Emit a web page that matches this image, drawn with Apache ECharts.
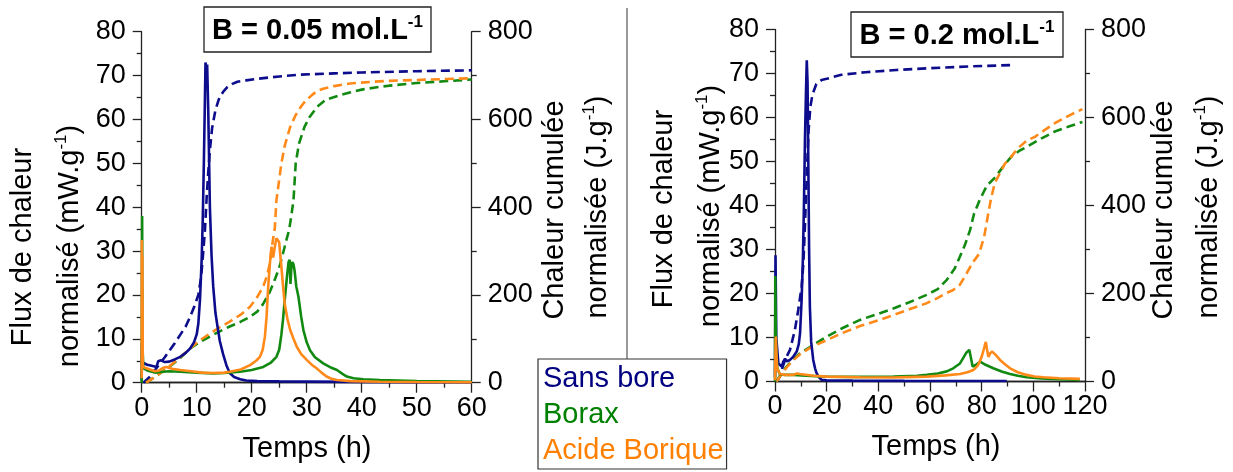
<!DOCTYPE html>
<html><head><meta charset="utf-8">
<script src="https://cdn.jsdelivr.net/npm/echarts@6/dist/echarts.min.js"></script>
<style>html,body{margin:0;padding:0;background:#fff}#c{width:1233px;height:472px}</style>
</head><body><div id="c"></div>
<script>
// ---------- data (time h, value) ----------
// Left panel: B = 0.05 mol/L  (flux mW/g on left axis, cumulated heat J/g on right axis)
const L_sansBore_flux = [[0,0.5],[0.05,9],[0.15,4.6],[0.5,4.3],[1,4.1],[2,3.8],[2.7,3.6],[3,4.9],[3.5,5.1],[4.2,4.7],[5,4.8],[6,5.3],[7,5.9],[8,6.8],[8.8,7.8],[9.5,9.2],[10,11],[10.3,13.5],[10.6,19],[10.9,28],[11.1,37],[11.3,50],[11.5,65],[11.6,73],[11.75,71.5],[11.9,72.5],[12.1,62],[12.4,40],[12.7,29],[13,22],[13.4,16],[13.7,13.5],[14.2,9.5],[14.8,6.5],[15.4,4],[16,2.2],[16.8,1.3],[17.9,0.8],[19,0.5],[21,0.35],[25,0.3],[30,0.25],[40,0.18],[50,0.12],[60,0.1]];
const L_borax_flux = [[0,0],[0.08,38],[0.15,8],[0.3,3.3],[1,2.8],[2.4,2.3],[3.9,2.5],[5,2.6],[7,2.5],[10,2.3],[13,2.1],[15,2.2],[17.9,2.5],[20,2.9],[22.1,3.6],[23.5,4.6],[24.5,5.9],[25,7.5],[25.4,11],[25.7,14.5],[26,18.8],[26.4,24],[26.7,27.5],[26.9,28],[27.05,22.5],[27.2,26],[27.4,27.5],[27.6,27],[27.8,25.5],[28.1,22],[28.5,19.6],[29,15],[29.4,12],[30,9.2],[30.6,7.4],[31.5,5.8],[33,4.4],[34.5,3.4],[35.5,2.9],[36.5,2],[37.3,1.4],[38.5,1],[40.3,0.8],[43.3,0.6],[50,0.35],[60,0.2]];
const L_acide_flux = [[0,1],[0.03,32.5],[0.08,4],[0.12,29],[0.2,3.6],[0.5,3.4],[1.5,3],[2.4,2.6],[3.2,2.8],[3.9,3.4],[4.5,3.6],[5.5,3.2],[7,2.9],[9,2.6],[11,2.3],[13,2.2],[15,2.3],[16,2.5],[18,3.0],[19.7,4],[20.8,5],[21.5,5.9],[22,7.5],[22.4,10.5],[22.7,15],[23,21.9],[23.3,27],[23.6,31],[23.9,28.5],[24.2,31],[24.5,32.9],[24.8,33.2],[25,32],[25.2,29],[25.4,26.4],[25.7,22],[26,18],[26.5,14.5],[27,12],[27.6,10],[28.2,8.2],[29,6.5],[30,5.2],[31,4],[31.8,3.3],[32.7,2.3],[33.6,1.4],[34.5,0.9],[35.5,0.6],[38,0.35],[43.3,0.2],[50,0.15],[60,0.1]];
const L_sansBore_cum = [[0.3,0],[1,8],[1.5,14],[2.5,30],[3.3,44],[4.2,58],[5.1,74],[6,90],[7,109],[8,128],[8.8,150],[9.6,175],[10.3,200],[10.8,240],[11.2,300],[11.5,348],[11.8,420],[12.1,480],[12.4,530],[12.8,580],[13.4,621],[14,645],[14.8,663],[15.6,674],[16.5,681],[17.4,686],[19,689],[21.3,693],[25,698],[28.7,702],[35,705],[40,707],[50,710],[60,712]];
const L_borax_cum = [[0.8,0],[2,10],[3.3,21],[5,36],[7,56],[8.8,78],[10.5,92],[12.4,105],[14,116],[16,128],[18,139],[19.7,150],[21,162],[22,178],[23.3,207],[24.2,235],[25,262],[25.7,295],[26.3,325],[26.8,348],[27.2,380],[27.6,416],[28,500],[28.6,545],[29.6,583],[30.5,605],[31.9,629],[33.5,645],[36,655],[38,662],[40,668],[42.5,673],[45,677],[50,683],[55,687],[60,691]];
const L_acide_cum = [[0.8,0],[2,10],[3.3,21],[5,37],[7,58],[8.8,78],[10.5,96],[12.4,112],[14,125],[16,139],[18,155],[19.7,173],[21,195],[22.1,219],[22.8,245],[23.3,272],[23.8,320],[24.2,352],[24.5,416],[25.4,500],[26,540],[27,583],[28,610],[29,630],[29.9,644],[31,656],[31.9,665],[33,670],[35,676],[37.9,682],[42,686],[45,688],[50,690],[55,692],[60,694]];

// Right panel: B = 0.2 mol/L
const R_sansBore_flux = [[0,1],[0.2,28.7],[0.5,10],[1.3,4.1],[2,3.8],[2.6,3.4],[3.2,4.5],[3.9,5.2],[4.5,4.6],[5.8,4.9],[7,5.6],[8.4,6.8],[9.2,8.5],[9.7,11],[10.3,18.5],[10.8,28],[11.2,40],[11.6,55],[12,66],[12.3,73],[12.6,68],[12.9,50],[13.2,30],[13.5,17],[14,9],[14.8,4.9],[15.5,3],[16.1,1.9],[17,1],[18,0.4],[20,0.25],[30,0.2],[50,0.15],[70,0.12],[89.7,0.1]];
const R_borax_flux = [[0,0],[0.1,24],[0.4,8],[0.9,3],[1.9,1.6],[4,1.5],[7.1,1.5],[12,1.3],[20,1.1],[30,1.05],[45.8,1.1],[55,1.3],[58.7,1.5],[63,1.8],[66.5,2.3],[69,3],[71.6,4.1],[73,5.5],[74,6.5],[75.2,7.2],[75.8,5.5],[76.5,3.4],[77.5,3.7],[79.4,4.5],[81.5,3.8],[84.5,3],[88,2.2],[91,1.7],[94,1.3],[97.4,0.95],[103,0.7],[110.3,0.5],[118,0.35]];
const R_acide_flux = [[0,0.3],[0.3,10.2],[0.8,3],[1.9,1.7],[4,1.5],[7.1,1.5],[8.5,1.8],[9,2],[9.6,1.7],[10.3,1.5],[15,1.3],[20,1.1],[32.9,0.95],[45.8,0.9],[58.7,1.1],[66,1.4],[71.6,1.7],[74.5,2.1],[76.8,2.6],[78.5,3.6],[80,5.6],[80.9,7.5],[81.6,9.0],[82.1,7.2],[82.6,5.6],[83.3,6.4],[84.1,6.8],[85.5,6],[87.1,4.9],[89,3.9],[91,3],[94,2.1],[97.4,1.5],[100.5,1.15],[103.9,0.95],[110,0.75],[118,0.6]];
const R_sansBore_cum = [[0.5,0],[1.9,11],[3,34],[3.9,49],[5.8,72],[7.7,117],[9,163],[10.3,215],[11,270],[11.5,340],[12,420],[12.5,500],[13,570],[13.7,625],[14.5,652],[16,676],[18,685],[20,688],[25.7,697],[35,703],[47,708],[60,712],[75,716],[91,719]];
const R_borax_cum = [[0.6,0],[2,14],[4.5,34],[7,50],[9.7,64],[14,80],[20,102],[26,121],[32.9,140],[40,154],[45.8,166],[52,180],[58.7,197],[63,210],[66.5,231],[69.5,256],[71.6,284],[73.5,310],[75.5,344],[77,380],[79.2,412],[82,445],[85.4,465],[88.5,490],[91.5,511],[94.5,524],[97.6,534],[103,552],[108.3,568],[114,580],[119,590]];
const R_acide_cum = [[0.6,0],[2,12],[4.5,32],[7,48],[9.7,62],[14,78],[20,94],[26,110],[32.9,126],[40,139],[45.8,151],[52,164],[58.7,178],[63,190],[66,200],[69,208],[71.6,220],[74.2,246],[76.5,270],[79,290],[81,330],[82.5,380],[83.5,412],[85,450],[87,473],[89,495],[91.5,511],[94,530],[97.6,548],[100.6,556],[104,570],[108.3,587],[114,605],[119,619]];

const seriesNames = ['Sans bore','Borax','Acide Borique'];
const leftXTicks = {min:0, max:60, interval:10};
const rightXTicks = {min:0, max:120, interval:20};
const fluxTicks = {min:0, max:80, interval:10};
const cumTicks = {min:0, max:800, interval:200};

// ---------- styling ----------
const COLORS = {'Sans bore':'#0c0c8c','Borax':'#128a12','Acide Borique':'#ff8a1a'};
const LEGEND_COLORS = {'Sans bore':'#000080','Borax':'#008000','Acide Borique':'#ff8000'};
const FONT = '"Liberation Sans", Arial, sans-serif';
const AX = '#222';

function xAx(grid, t){
  return {type:'value', gridIndex:grid, min:t.min, max:t.max, interval:t.interval,
    axisLine:{show:true, lineStyle:{color:AX, width:1.3}},
    axisTick:{show:true, length:10, lineStyle:{color:AX, width:1.3}},
    minorTick:{show:true, splitNumber:2, length:5, lineStyle:{color:AX, width:1.3}},
    axisLabel:{fontSize:27, color:'#000', fontFamily:FONT, margin:12},
    splitLine:{show:false}};
}
function topAx(grid, t){
  return {type:'value', gridIndex:grid, position:'top', min:t.min, max:t.max,
    axisLine:{show:true, lineStyle:{color:AX, width:1.3}},
    axisTick:{show:false}, axisLabel:{show:false}, splitLine:{show:false}};
}
function yAx(grid, t, pos){
  return {type:'value', gridIndex:grid, position:pos, min:t.min, max:t.max, interval:t.interval,
    axisLine:{show:true, onZero:false, lineStyle:{color:AX, width:1.3}},
    axisTick:{show:true, length:9, lineStyle:{color:AX, width:1.3}},
    minorTick:{show:true, splitNumber:2, length:5, lineStyle:{color:AX, width:1.3}},
    axisLabel:{fontSize:27, color:'#000', fontFamily:FONT, margin:16},
    splitLine:{show:false}};
}
function ser(name, data, xi, yi, dashed){
  return {type:'line', name:name, data:data, xAxisIndex:xi, yAxisIndex:yi,
    showSymbol:false, symbol:'none', animation:false, z: dashed?3:4,
    lineStyle:{color:COLORS[name], width:2.6, type: dashed?[9,5]:'solid'},
    itemStyle:{color:COLORS[name]}};
}

const titleRich = {
  a:{fontSize:29, fontWeight:'bold', fontFamily:FONT, color:'#000', lineHeight:34},
  s:{fontSize:17, fontWeight:'bold', fontFamily:FONT, color:'#000', verticalAlign:'top', lineHeight:34}
};
const axRich = {
  a:{fontSize:29, fontFamily:FONT, color:'#000', lineHeight:34},
  s:{fontSize:17, fontFamily:FONT, color:'#000', verticalAlign:'top', lineHeight:34}
};
function vtext(x, y, txt){
  return {type:'text', x:x, y:y, rotation:Math.PI/2, z:10,
    style:{text:txt, rich:axRich, align:'center', verticalAlign:'middle'}};
}
function htext(x, y, txt){
  return {type:'text', x:x, y:y, z:10,
    style:{text:txt, font:'29px '+FONT, fill:'#000', align:'center', verticalAlign:'middle'}};
}
function titleBox(x, y, w, h, txt){
  return {type:'group', z:20, children:[
    {type:'rect', shape:{x:x, y:y, width:w, height:h}, style:{fill:'#fff', stroke:'#222', lineWidth:1.3}},
    {type:'text', x:x+w/2, y:y+h/2+1, style:{text:txt, rich:titleRich, align:'center', verticalAlign:'middle'}}
  ]};
}

const option = {
  backgroundColor:'#fff',
  animation:false,
  grid:[
    {left:141.7, top:31.7, width:330, height:351},
    {left:775, top:29.5, width:310, height:352}
  ],
  xAxis:[xAx(0,leftXTicks), topAx(0,leftXTicks), xAx(1,rightXTicks), topAx(1,rightXTicks)],
  yAxis:[yAx(0,fluxTicks,'left'), yAx(0,cumTicks,'right'), yAx(1,fluxTicks,'left'), yAx(1,cumTicks,'right')],
  legend:{
    left:538, top:359, orient:'vertical', icon:'none', itemWidth:0, itemHeight:0, itemGap:6,
    padding:[5,3,3,0], borderColor:'#333', borderWidth:1.2, backgroundColor:'#fff',
    selectedMode:false,
    textStyle:{fontSize:29, fontFamily:FONT, lineHeight:30},
    data: seriesNames.map(n=>({name:n, textStyle:{color:LEGEND_COLORS[n]}}))
  },
  series:[
    ser('Sans bore', L_sansBore_cum, 0, 1, true),
    ser('Borax', L_borax_cum, 0, 1, true),
    ser('Acide Borique', L_acide_cum, 0, 1, true),
    ser('Sans bore', L_sansBore_flux, 0, 0, false),
    ser('Borax', L_borax_flux, 0, 0, false),
    ser('Acide Borique', L_acide_flux, 0, 0, false),
    ser('Sans bore', R_sansBore_cum, 2, 3, true),
    ser('Borax', R_borax_cum, 2, 3, true),
    ser('Acide Borique', R_acide_cum, 2, 3, true),
    ser('Sans bore', R_sansBore_flux, 2, 2, false),
    ser('Borax', R_borax_flux, 2, 2, false),
    ser('Acide Borique', R_acide_flux, 2, 2, false)
  ],
  graphic:[
    {type:'line', shape:{x1:627, y1:8, x2:627, y2:359}, style:{stroke:'#555', lineWidth:1.2}, z:5},
    titleBox(204, 7, 227, 45, '{a|B = 0.05 mol.L}{s|-1}'),
    titleBox(851, 12, 212, 45, '{a|B = 0.2 mol.L}{s|-1}'),
    vtext(23, 247, '{a|Flux de chaleur}'),
    vtext(70, 246, '{a|normalisé (mW.g}{s|-1}{a|)}'),
    vtext(555, 210, '{a|Chaleur cumulée}'),
    vtext(598, 207, '{a|normalisée (J.g}{s|-1}{a|)}'),
    vtext(664, 209, '{a|Flux de chaleur}'),
    vtext(711, 206, '{a|normalisé (mW.g}{s|-1}{a|)}'),
    vtext(1164, 210, '{a|Chaleur cumulée}'),
    vtext(1209, 207, '{a|normalisée (J.g}{s|-1}{a|)}'),
    htext(307, 449, 'Temps (h)'),
    htext(936, 447, 'Temps (h)')
  ]
};
const chart = echarts.init(document.getElementById('c'), null, {renderer:'canvas'});
chart.setOption(option);
</script></body></html>
